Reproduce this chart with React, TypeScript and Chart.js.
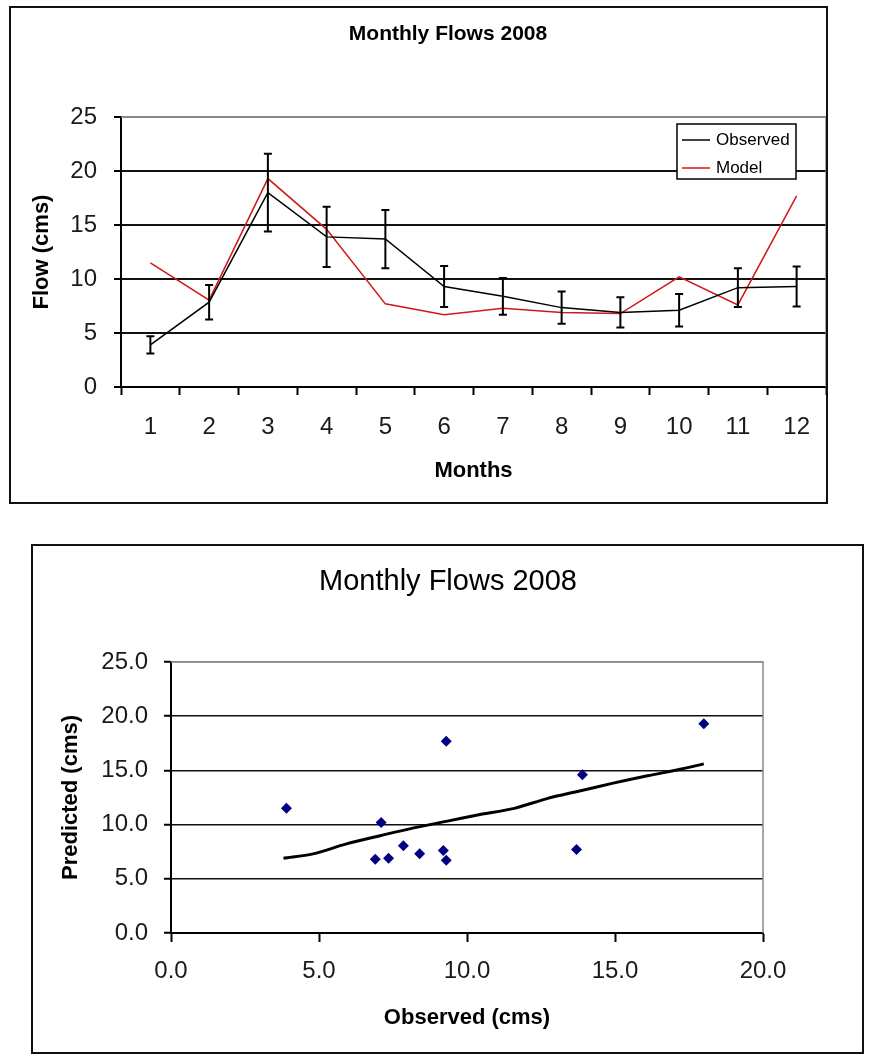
import React, { useEffect, useRef } from "react";
import { Chart, registerables } from "chart.js";

Chart.register(...registerables);

// ---------- data ----------
const months = ["1", "2", "3", "4", "5", "6", "7", "8", "9", "10", "11", "12"];
const observedFlow = [3.9, 7.85, 18.0, 13.9, 13.7, 9.3, 8.4, 7.35, 6.9, 7.1, 9.2, 9.3];
const modelFlow = [11.5, 8.05, 19.3, 14.6, 7.7, 6.7, 7.3, 6.9, 6.8, 10.2, 7.6, 17.7];
const observedError = [0.8, 1.6, 3.6, 2.8, 2.7, 1.9, 1.7, 1.5, 1.4, 1.5, 1.8, 1.85];
const trendX = [3.8, 4.8, 5.9, 7.1, 8.2, 9.3, 10.4, 11.6, 12.7, 13.8, 14.9, 16.1, 17.2, 18.0];
const trendY = [6.9, 7.3, 8.2, 9.0, 9.7, 10.3, 10.9, 11.5, 12.4, 13.1, 13.8, 14.5, 15.1, 15.6];

const FONT = "'Liberation Sans', Arial, Helvetica, sans-serif";

// ---------- plugins ----------
const boxTitlePlugin = {
  id: "boxTitle",
  afterDraw(chart: any, _args: any, opts: any) {
    if (!opts || !opts.text) return;
    const ctx = chart.ctx;
    ctx.save();
    ctx.font = opts.font;
    ctx.fillStyle = opts.color || "#000";
    ctx.textAlign = "center";
    ctx.textBaseline = "middle";
    ctx.fillText(opts.text, opts.x, opts.y);
    ctx.restore();
  },
};

const plotFramePlugin = {
  id: "plotFrame",
  beforeDatasetsDraw(chart: any, _args: any, opts: any) {
    const { ctx, chartArea } = chart;
    ctx.save();
    ctx.strokeStyle = opts.color || "#888";
    ctx.lineWidth = opts.width || 1.5;
    ctx.beginPath();
    ctx.moveTo(chartArea.left, chartArea.top);
    ctx.lineTo(chartArea.right, chartArea.top);
    ctx.lineTo(chartArea.right, chartArea.bottom);
    ctx.stroke();
    ctx.restore();
  },
};

const errorBarPlugin = {
  id: "errorBars",
  afterDatasetsDraw(chart: any, _args: any, opts: any) {
    if (!opts || !opts.errors) return;
    const { ctx } = chart;
    const xs = chart.scales.x;
    const ys = chart.scales.y;
    const ds = chart.data.datasets[opts.datasetIndex];
    ctx.save();
    ctx.strokeStyle = opts.color || "#000";
    ctx.lineWidth = opts.lineWidth || 2;
    ds.data.forEach((v: number, i: number) => {
      const e = opts.errors[i];
      const px = xs.getPixelForValue(i);
      const yt = ys.getPixelForValue(v + e);
      const yb = ys.getPixelForValue(v - e);
      ctx.beginPath();
      ctx.moveTo(px, yt);
      ctx.lineTo(px, yb);
      ctx.moveTo(px - opts.cap, yt);
      ctx.lineTo(px + opts.cap, yt);
      ctx.moveTo(px - opts.cap, yb);
      ctx.lineTo(px + opts.cap, yb);
      ctx.stroke();
    });
    ctx.restore();
  },
};

const boxLegendPlugin = {
  id: "boxLegend",
  afterDraw(chart: any, _args: any, opts: any) {
    if (!opts || !opts.box) return;
    const { ctx } = chart;
    const b = opts.box;
    ctx.save();
    ctx.fillStyle = "#fff";
    ctx.fillRect(b.left, b.top, b.width, b.height);
    ctx.strokeStyle = "#000";
    ctx.lineWidth = 1.5;
    ctx.strokeRect(b.left, b.top, b.width, b.height);
    ctx.font = opts.font;
    ctx.textBaseline = "middle";
    ctx.textAlign = "left";
    chart.data.datasets.forEach((ds: any, i: number) => {
      const y = b.top + opts.firstRow + i * opts.rowGap;
      ctx.strokeStyle = ds.borderColor;
      ctx.lineWidth = 1.5;
      ctx.beginPath();
      ctx.moveTo(b.left + opts.lineStart, y);
      ctx.lineTo(b.left + opts.lineEnd, y);
      ctx.stroke();
      ctx.fillStyle = "#000";
      ctx.fillText(ds.label, b.left + opts.textStart, y);
    });
    ctx.restore();
  },
};

export default function App() {
  const topRef = useRef<HTMLCanvasElement | null>(null);
  const botRef = useRef<HTMLCanvasElement | null>(null);

  useEffect(() => {
    const tickFont = { family: FONT, size: 24 };
    const titleFont = { family: FONT, size: 22, weight: "bold" as const };

    const top = new Chart(topRef.current as HTMLCanvasElement, {
      type: "line",
      data: {
        labels: months,
        datasets: [
          { label: "Observed", data: observedFlow, borderColor: "#000", borderWidth: 1.5, pointRadius: 0, tension: 0 },
          { label: "Model", data: modelFlow, borderColor: "#d01818", borderWidth: 1.5, pointRadius: 0, tension: 0 },
        ],
      },
      plugins: [boxTitlePlugin, plotFramePlugin, errorBarPlugin, boxLegendPlugin],
      options: {
        responsive: false,
        animation: false,
        events: [],
        layout: { padding: { left: 0, top: 117, right: 49, bottom: 0 } },
        plugins: {
          legend: { display: false },
          tooltip: { enabled: false },
          title: { display: false },
          boxTitle: { text: "Monthly Flows 2008", x: 448, y: 34, font: `bold 21px ${FONT}`, color: "#000" },
          plotFrame: { color: "#8a8a8a", width: 1.5 },
          errorBars: { datasetIndex: 0, errors: observedError, cap: 4, lineWidth: 2, color: "#000" },
          boxLegend: {
            box: { left: 677, top: 124, width: 119, height: 55 },
            font: `17px ${FONT}`,
            firstRow: 16,
            rowGap: 28,
            lineStart: 5,
            lineEnd: 33,
            textStart: 39,
          },
        } as any,
        scales: {
          x: {
            type: "category",
            offset: true,
            grid: { offset: true, drawOnChartArea: false, drawTicks: true, tickLength: 8, tickColor: "#000", tickWidth: 2 },
            border: { color: "#000", width: 2 },
            ticks: { font: tickFont, color: "#1a1a1a", padding: 18, autoSkip: false, maxRotation: 0 },
            title: { display: true, text: "Months", font: titleFont, color: "#000", padding: { top: 0, bottom: 26 } },
            afterFit: (s: any) => { s.height = 123; },
          },
          y: {
            min: 0,
            max: 25,
            ticks: { stepSize: 5, font: tickFont, color: "#1a1a1a", padding: 17 },
            grid: {
              color: (c: any) => (c.tick && c.tick.value === 25 ? "#8a8a8a" : "#111"),
              lineWidth: 2,
              tickLength: 7,
              tickColor: "#000",
              tickWidth: 2,
            },
            border: { color: "#000", width: 2 },
            title: { display: true, text: "Flow (cms)", font: titleFont, color: "#000", padding: { top: 29, bottom: 0 } },
            afterFit: (s: any) => { s.width = 121; },
          },
        },
      },
    });

    const bottom = new Chart(botRef.current as HTMLCanvasElement, {
      type: "scatter",
      data: {
        datasets: [
          {
            label: "Predicted",
            data: observedFlow.map((o, i) => ({ x: o, y: modelFlow[i] })),
            pointStyle: "rectRot",
            pointRadius: 5.5,
            backgroundColor: "#000080",
            borderColor: "#000080",
            borderWidth: 0,
          },
          {
            label: "Trend",
            data: trendX.map((x, i) => ({ x, y: trendY[i] })),
            showLine: true,
            borderColor: "#000",
            borderWidth: 3,
            pointRadius: 0,
            tension: 0.3,
          },
        ],
      },
      plugins: [boxTitlePlugin, plotFramePlugin],
      options: {
        responsive: false,
        animation: false,
        events: [],
        layout: { padding: { left: 0, top: 142, right: 112, bottom: 0 } },
        plugins: {
          legend: { display: false },
          tooltip: { enabled: false },
          title: { display: false },
          boxTitle: { text: "Monthly Flows 2008", x: 448, y: 62, font: `29px ${FONT}`, color: "#000" },
          plotFrame: { color: "#8a8a8a", width: 1.5 },
        } as any,
        scales: {
          x: {
            type: "linear",
            min: 0,
            max: 20,
            ticks: { stepSize: 5, font: tickFont, color: "#1a1a1a", padding: 15, callback: (v: any) => Number(v).toFixed(1) },
            grid: { drawOnChartArea: false, drawTicks: true, tickLength: 9, tickColor: "#000", tickWidth: 2 },
            border: { color: "#000", width: 2 },
            title: { display: true, text: "Observed (cms)", font: titleFont, color: "#000", padding: { top: 0, bottom: 24 } },
            afterFit: (s: any) => { s.height = 122; },
          },
          y: {
            type: "linear",
            min: 0,
            max: 25,
            ticks: { stepSize: 5, font: tickFont, color: "#1a1a1a", padding: 16, callback: (v: any) => Number(v).toFixed(1) },
            grid: {
              color: (c: any) => (c.tick && c.tick.value === 25 ? "#8a8a8a" : "#111"),
              lineWidth: 1.5,
              tickLength: 7,
              tickColor: "#000",
              tickWidth: 2,
            },
            border: { color: "#000", width: 2 },
            title: { display: true, text: "Predicted (cms)", font: titleFont, color: "#000", padding: { top: 58, bottom: 0 } },
            afterFit: (s: any) => { s.width = 171; },
          },
        },
      },
    });

    return () => {
      top.destroy();
      bottom.destroy();
    };
  }, []);

  return (
    <div style={{ position: "absolute", left: 0, top: 0, width: 875, height: 1055, background: "#fff", overflow: "hidden" }}>
      <canvas ref={topRef} width={875} height={510} style={{ position: "absolute", left: 0, top: 0, width: 875, height: 510 }} />
      <canvas ref={botRef} width={875} height={535} style={{ position: "absolute", left: 0, top: 520, width: 875, height: 535 }} />
      <div style={{ position: "absolute", left: 9, top: 6, width: 819, height: 498, border: "2px solid #111", boxSizing: "border-box", pointerEvents: "none" }} />
      <div style={{ position: "absolute", left: 31, top: 544, width: 833, height: 510, border: "2px solid #111", boxSizing: "border-box", pointerEvents: "none" }} />
    </div>
  );
}
